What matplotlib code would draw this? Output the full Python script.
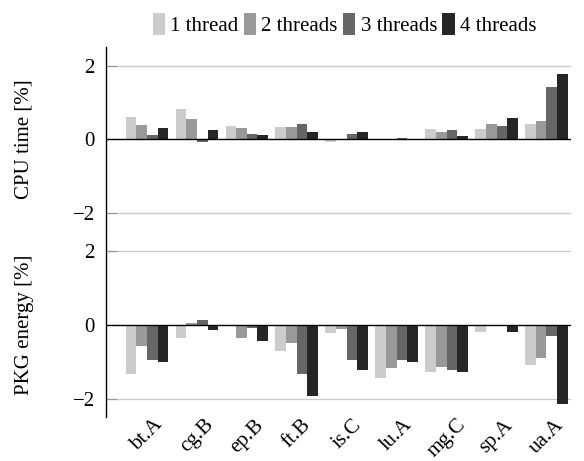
import numpy as np
import matplotlib.pyplot as plt
from matplotlib.patches import Patch

plt.rcParams['font.family'] = ['Liberation Serif', 'DejaVu Serif']

benchmarks = ["bt.A", "cg.B", "ep.B", "ft.B", "is.C", "lu.A", "mg.C", "sp.A", "ua.A"]
thread_labels = ["1 thread", "2 threads", "3 threads", "4 threads"]
thread_colors = ["#cccccc", "#999999", "#666666", "#262626"]

# CPU time change [%], one list per thread count
cpu_1 = [0.61, 0.83, 0.37, 0.35, -0.08, 0.01, 0.29, 0.27, 0.41]
cpu_2 = [0.39, 0.54, 0.32, 0.35, 0.01, 0.02, 0.20, 0.43, 0.51]
cpu_3 = [0.12, -0.06, 0.14, 0.43, 0.15, 0.05, 0.25, 0.36, 1.42]
cpu_4 = [0.32, 0.26, 0.11, 0.21, 0.21, 0.01, 0.10, 0.59, 1.78]

# PKG energy change [%]
pkg_1 = [-1.32, -0.36, -0.01, -0.71, -0.21, -1.43, -1.27, -0.18, -1.09]
pkg_2 = [-0.56, 0.05, -0.35, -0.49, -0.12, -1.18, -1.15, -0.04, -0.90]
pkg_3 = [-0.95, 0.14, -0.08, -1.32, -0.94, -0.95, -1.21, -0.02, -0.30]
pkg_4 = [-1.00, -0.14, -0.43, -1.94, -1.21, -1.00, -1.28, -0.18, -2.15]

cpu = [cpu_1, cpu_2, cpu_3, cpu_4]
pkg = [pkg_1, pkg_2, pkg_3, pkg_4]

fig = plt.figure(figsize=(5.84, 4.61), dpi=100)
ax_top = fig.add_axes([0.1815, 0.497, 0.797, 0.401])
ax_bot = fig.add_axes([0.1815, 0.0954, 0.797, 0.3992])

x = np.arange(len(benchmarks))
width = 0.213
fs = 15


def draw_panel(ax, series, ylabel):
    for i, vals in enumerate(series):
        ax.bar(x + (i - 1.5) * width, vals, width, color=thread_colors[i], zorder=3)
    ax.set_xlim(-0.82, 8.5)
    ax.set_ylim(-2.5, 2.5)
    ax.set_yticks([-2, 0, 2])
    ax.set_yticklabels(["\u22122", "0", "2"])
    for y in [-2, 2]:
        ax.axhline(y, color="#cccccc", lw=1.0, zorder=1)
    ax.axhline(0, color="black", lw=1.0, zorder=4)
    for s in ["top", "right", "bottom"]:
        ax.spines[s].set_visible(False)
    ax.spines["left"].set_linewidth(1.0)
    ax.tick_params(axis="y", direction="in", length=8, color="#999999",
                   labelsize=fs, pad=8)
    ax.set_ylabel(ylabel, fontsize=fs)
    ax.yaxis.set_label_coords(-0.155, 0.5)


draw_panel(ax_top, cpu, "CPU time [%]")
draw_panel(ax_bot, pkg, "PKG energy [%]")

ax_top.set_xticks([])
ax_bot.set_xticks(x)
ax_bot.set_xticklabels(benchmarks, rotation=45, ha="center", fontsize=fs)
ax_bot.tick_params(axis="x", length=0, pad=-1)

handles = [Patch(facecolor=c) for c in thread_colors]
fig.legend(handles, thread_labels, loc="upper center", bbox_to_anchor=(0.59, 1.012),
           ncol=4, frameon=False, fontsize=fs, handlelength=0.6, handleheight=1.2,
           handletextpad=0.25, columnspacing=0.25)

fig.savefig("out.png", dpi=100)
